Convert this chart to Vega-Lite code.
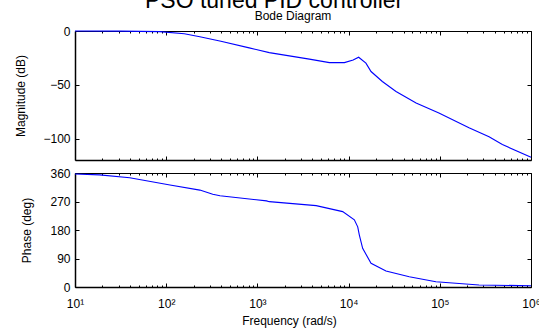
{
  "$schema": "https://vega.github.io/schema/vega-lite/v6.json",
  "autosize": {"type": "none"},
  "padding": {"left": 75, "top": 31, "right": 464, "bottom": 298},
  "background": "white",
  "title": {"text": "PSO tuned PID controller", "fontSize": 23, "font": "Liberation Sans", "fontWeight": "normal", "color": "black", "anchor": "middle", "baseline": "alphabetic", "offset": 0, "dy": 21, "dx": -3},
  "config": {
    "font": "Liberation Sans",
    "view": {"stroke": null},
    "axis": {"grid": false, "domainColor": "black", "tickColor": "black", "labelColor": "black", "titleColor": "black", "labelFont": "Liberation Sans", "titleFont": "Liberation Sans", "titleFontWeight": "normal", "labelFontSize": 12, "titleFontSize": 12, "labelOverlap": false, "labelFlush": false}
  },
  "datasets": {
    "mag": [
      {"f": 10, "db": 0},
      {"f": 31.6, "db": -0.1},
      {"f": 85.1, "db": -0.6},
      {"f": 158, "db": -2.5},
      {"f": 234, "db": -5.3},
      {"f": 398, "db": -9.5},
      {"f": 813, "db": -15.7},
      {"f": 1349, "db": -20.1},
      {"f": 2239, "db": -23.1},
      {"f": 3715, "db": -26.2},
      {"f": 6166, "db": -29.4},
      {"f": 8995, "db": -29.4},
      {"f": 11220, "db": -27},
      {"f": 12882, "db": -24.4},
      {"f": 15488, "db": -29.9},
      {"f": 17620, "db": -37.7},
      {"f": 23442, "db": -47},
      {"f": 33113, "db": -56.2},
      {"f": 54954, "db": -67},
      {"f": 97724, "db": -76.2},
      {"f": 208930, "db": -90},
      {"f": 346737, "db": -98.4},
      {"f": 485289, "db": -105.6},
      {"f": 1000000, "db": -117.5}
    ],
    "phase": [
      {"f": 10, "deg": 357},
      {"f": 18.6, "deg": 354},
      {"f": 39.8, "deg": 345},
      {"f": 110, "deg": 322},
      {"f": 234, "deg": 306},
      {"f": 324, "deg": 293},
      {"f": 389, "deg": 288},
      {"f": 1259, "deg": 272},
      {"f": 1349, "deg": 269.5},
      {"f": 4406, "deg": 257},
      {"f": 8610, "deg": 238},
      {"f": 11560, "deg": 212},
      {"f": 12590, "deg": 190},
      {"f": 13120, "deg": 164},
      {"f": 14260, "deg": 122},
      {"f": 17620, "deg": 75},
      {"f": 25700, "deg": 50.5},
      {"f": 46240, "deg": 32.5},
      {"f": 90570, "deg": 16.7},
      {"f": 269150, "deg": 6.3},
      {"f": 1000000, "deg": 4}
    ]
  },
  "bounds": "flush",
  "spacing": 13,
  "vconcat": [
    {
      "width": 456,
      "height": 129,
      "title": {"text": "Bode Diagram", "fontSize": 12, "fontWeight": "normal", "color": "black", "anchor": "middle", "dx": -10, "offset": 2},
      "data": {"name": "mag"},
      "layer": [
        {
          "mark": {"type": "line", "color": "#0000ff", "strokeWidth": 1.1},
          "encoding": {
            "x": {"field": "f", "type": "quantitative", "scale": {"type": "log", "domain": [10, 1000000], "nice": false},
              "axis": {"orient": "bottom", "values": [10, 100, 1000, 10000, 100000, 1000000], "tickSize": -4, "labels": false, "title": null, "domainWidth": 1.5}},
            "y": {"field": "db", "type": "quantitative", "scale": {"domain": [-120, 0], "nice": false},
              "axis": {"orient": "left", "values": [-100, -50, 0], "tickSize": -4, "labelPadding": 9, "title": "Magnitude (dB)", "titleX": -55, "titleBaseline": "middle", "domainWidth": 1.5}}
          }
        },
        {
          "mark": {"type": "line", "opacity": 0},
          "encoding": {
            "x": {"field": "f", "type": "quantitative", "scale": {"type": "log", "domain": [10, 1000000], "nice": false},
              "axis": {"orient": "bottom", "values": [20,30,40,50,60,70,80,90,200,300,400,500,600,700,800,900,2000,3000,4000,5000,6000,7000,8000,9000,20000,30000,40000,50000,60000,70000,80000,90000,200000,300000,400000,500000,600000,700000,800000,900000], "tickSize": -2, "labels": false, "domain": false, "title": null}},
            "y": {"field": "db", "type": "quantitative", "scale": {"domain": [-120, 0], "nice": false},
              "axis": {"orient": "right", "values": [-100, -50, 0], "tickSize": -4, "labels": false, "title": null, "domainWidth": 1}}
          }
        },
        {
          "mark": {"type": "line", "opacity": 0},
          "encoding": {
            "x": {"field": "f", "type": "quantitative", "scale": {"type": "log", "domain": [10, 1000000], "nice": false},
              "axis": {"orient": "top", "values": [10, 100, 1000, 10000, 100000, 1000000], "tickSize": -4, "labels": false, "title": null, "domainWidth": 1}},
            "y": {"field": "db", "type": "quantitative", "scale": {"domain": [-120, 0], "nice": false}, "axis": null}
          }
        },
        {
          "mark": {"type": "line", "opacity": 0},
          "encoding": {
            "x": {"field": "f", "type": "quantitative", "scale": {"type": "log", "domain": [10, 1000000], "nice": false},
              "axis": {"orient": "top", "values": [20,30,40,50,60,70,80,90,200,300,400,500,600,700,800,900,2000,3000,4000,5000,6000,7000,8000,9000,20000,30000,40000,50000,60000,70000,80000,90000,200000,300000,400000,500000,600000,700000,800000,900000], "tickSize": -2, "labels": false, "domain": false, "title": null}},
            "y": {"field": "db", "type": "quantitative", "scale": {"domain": [-120, 0], "nice": false}, "axis": null}
          }
        }
      ],
      "resolve": {"axis": {"x": "independent", "y": "independent"}}
    },
    {
      "width": 456,
      "height": 114,
      "data": {"name": "phase"},
      "layer": [
        {
          "mark": {"type": "line", "color": "#0000ff", "strokeWidth": 1.1},
          "encoding": {
            "x": {"field": "f", "type": "quantitative", "scale": {"type": "log", "domain": [10, 1000000], "nice": false},
              "axis": {"orient": "bottom", "values": [10, 100, 1000, 10000, 100000, 1000000], "tickSize": -4, "labelExpr": "['','10¹','10²','10³','10⁴','10⁵','10⁶'][round(log(datum.value)/LN10)]", "labelBaseline": "alphabetic", "labelPadding": 24, "title": "Frequency  (rad/s)", "titleX": 214, "titleY": 37, "titleBaseline": "alphabetic", "titleAnchor": null, "domainWidth": 1.5}},
            "y": {"field": "deg", "type": "quantitative", "scale": {"domain": [0, 360], "nice": false},
              "axis": {"orient": "left", "values": [0, 90, 180, 270, 360], "tickSize": -4, "labelPadding": 9, "title": "Phase (deg)", "titleX": -49, "titleBaseline": "middle", "domainWidth": 1.5}}
          }
        },
        {
          "mark": {"type": "line", "opacity": 0},
          "encoding": {
            "x": {"field": "f", "type": "quantitative", "scale": {"type": "log", "domain": [10, 1000000], "nice": false},
              "axis": {"orient": "bottom", "values": [20,30,40,50,60,70,80,90,200,300,400,500,600,700,800,900,2000,3000,4000,5000,6000,7000,8000,9000,20000,30000,40000,50000,60000,70000,80000,90000,200000,300000,400000,500000,600000,700000,800000,900000], "tickSize": -2, "labels": false, "domain": false, "title": null}},
            "y": {"field": "deg", "type": "quantitative", "scale": {"domain": [0, 360], "nice": false},
              "axis": {"orient": "right", "values": [0, 90, 180, 270, 360], "tickSize": -4, "labels": false, "title": null, "domainWidth": 1}}
          }
        },
        {
          "mark": {"type": "line", "opacity": 0},
          "encoding": {
            "x": {"field": "f", "type": "quantitative", "scale": {"type": "log", "domain": [10, 1000000], "nice": false},
              "axis": {"orient": "top", "values": [10, 100, 1000, 10000, 100000, 1000000], "tickSize": -4, "labels": false, "title": null, "domainWidth": 1}},
            "y": {"field": "deg", "type": "quantitative", "scale": {"domain": [0, 360], "nice": false}, "axis": null}
          }
        },
        {
          "mark": {"type": "line", "opacity": 0},
          "encoding": {
            "x": {"field": "f", "type": "quantitative", "scale": {"type": "log", "domain": [10, 1000000], "nice": false},
              "axis": {"orient": "top", "values": [20,30,40,50,60,70,80,90,200,300,400,500,600,700,800,900,2000,3000,4000,5000,6000,7000,8000,9000,20000,30000,40000,50000,60000,70000,80000,90000,200000,300000,400000,500000,600000,700000,800000,900000], "tickSize": -2, "labels": false, "domain": false, "title": null}},
            "y": {"field": "deg", "type": "quantitative", "scale": {"domain": [0, 360], "nice": false}, "axis": null}
          }
        }
      ],
      "resolve": {"axis": {"x": "independent", "y": "independent"}}
    }
  ]
}
